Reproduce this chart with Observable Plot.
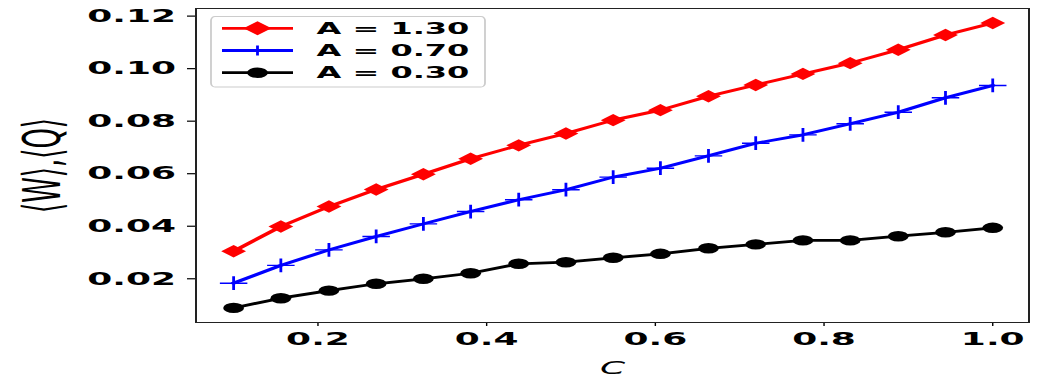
<!DOCTYPE html>
<html>
<head>
<meta charset="utf-8">
<script src="https://cdn.jsdelivr.net/npm/d3@7"></script>
<script src="https://cdn.jsdelivr.net/npm/@observablehq/plot@0.6"></script>
<style>
  html, body { margin: 0; padding: 0; background: #fff; }
  #chart svg { display: block; }
</style>
</head>
<body>
<div id="chart"></div>
<script>
// ---- data ----
const cValues = [0.1, 0.156, 0.213, 0.269, 0.325, 0.381, 0.438, 0.494, 0.55, 0.606, 0.663, 0.719, 0.775, 0.831, 0.888, 0.944, 1.0];
const valuesA130 = [0.0305, 0.0399, 0.0475, 0.0540, 0.0598, 0.0657, 0.0708, 0.0753, 0.0804, 0.0842, 0.0895, 0.0938, 0.0980, 0.1021, 0.1072, 0.1128, 0.1174];
const valuesA070 = [0.0183, 0.0251, 0.0310, 0.0361, 0.0409, 0.0456, 0.0501, 0.0539, 0.0587, 0.0621, 0.0668, 0.0716, 0.0748, 0.0790, 0.0834, 0.0889, 0.0936];
const valuesA030 = [0.0089, 0.0126, 0.0155, 0.0181, 0.0200, 0.0221, 0.0257, 0.0263, 0.0280, 0.0295, 0.0316, 0.0331, 0.0346, 0.0346, 0.0362, 0.0377, 0.0394];
const seriesNames = ["A = 1.30", "A = 0.70", "A = 0.30"];
const seriesColors = ["#ff0000", "#0000ff", "#000000"];
const xTicks = [0.2, 0.4, 0.6, 0.8, 1.0];
const yTicks = [0.02, 0.04, 0.06, 0.08, 0.10, 0.12];
const xLabel = "C";
const yLabel = "⟨W⟩,⟨Q⟩";

const rows = [];
[valuesA130, valuesA070, valuesA030].forEach((vals, i) =>
  vals.forEach((v, j) => rows.push({series: seriesNames[i], c: cValues[j], w: v}))
);
const bySeries = (k) => (d) => d.series === seriesNames[k];

// Drawn at half width, then stretched horizontally x2 (the reference is stretched).
const W = 524, H = 389;
const plot = Plot.plot({
  width: W,
  height: H,
  marginLeft: 97.5,
  marginRight: 10,
  marginTop: 8,
  marginBottom: 67,
  style: {fontFamily: "DejaVu Sans", background: "white", color: "black", overflow: "visible"},
  x: {domain: [0.0554, 1.043]},
  y: {domain: [0.00335, 0.1229]},
  color: {domain: seriesNames, range: seriesColors},
  marks: [
    Plot.axisX(xTicks, {tickSize: 4, tickPadding: 6, tickFormat: d3.format(".1f"), fontSize: 18, fontWeight: "bold", strokeWidth: 0.7, label: null}),
    Plot.axisY(yTicks, {tickSize: 4, tickPadding: 6, tickFormat: d3.format(".2f"), fontSize: 18, fontWeight: "bold", strokeWidth: 1.2, label: null}),
    Plot.line(rows, {x: "c", y: "w", z: "series", stroke: "series", strokeWidth: 2.8}),
    Plot.dot(rows, {filter: bySeries(0), x: "c", y: "w", symbol: "diamond2", fill: "series", stroke: "none", r: 5.6}),
    Plot.dot(rows, {filter: bySeries(1), x: "c", y: "w", symbol: "plus", fill: "none", stroke: "series", strokeWidth: 1.4, r: 4.5}),
    Plot.dot(rows, {filter: bySeries(2), x: "c", y: "w", symbol: "circle", fill: "series", stroke: "none", r: 5.2}),
    Plot.frame({stroke: "#222", strokeWidth: 1}),
    Plot.text([xLabel], {text: (d) => d, frameAnchor: "bottom", textAnchor: "middle", lineAnchor: "middle", dy: 45.8, fontSize: 18, fontStyle: "italic", fontFamily: "DejaVu Sans"}),
    Plot.text([yLabel], {text: (d) => d, frameAnchor: "left", textAnchor: "middle", lineAnchor: "middle", dx: -76.5, rotate: -90, fontSize: 26, fontFamily: "DejaVu Sans"})
  ]
});

// ---- legend (matplotlib style box) ----
const svg = d3.select(plot);
const lg = svg.append("g").attr("class", "legend").attr("text-anchor", "start");
lg.append("rect")
  .attr("x", 105.5).attr("y", 16.5).attr("width", 137).attr("height", 70.5)
  .attr("rx", 2).attr("ry", 4)
  .attr("fill", "white").attr("fill-opacity", 0.85)
  .attr("stroke", "#cccccc").attr("stroke-width", 0.9);
const rowY = [28.3, 50.5, 72.7];
seriesNames.forEach((name, i) => {
  const y = rowY[i];
  const col = seriesColors[i];
  lg.append("line").attr("x1", 111).attr("x2", 146.5).attr("y1", y).attr("y2", y)
    .attr("stroke", col).attr("stroke-width", 2.8);
  const cx = 128.75;
  if (i === 0) {
    const h = 7;
    lg.append("path").attr("d", `M${cx},${y - h}L${cx + h},${y}L${cx},${y + h}L${cx - h},${y}Z`).attr("fill", col);
  } else if (i === 1) {
    const h = 5;
    lg.append("path").attr("d", `M${cx - h},${y}H${cx + h}M${cx},${y - h}V${y + h}`).attr("stroke", col).attr("stroke-width", 1.4).attr("fill", "none");
  } else {
    lg.append("circle").attr("cx", cx).attr("cy", y).attr("r", 5.2).attr("fill", col);
  }
  lg.append("text").attr("x", 158.3).attr("y", y + 5.6)
    .attr("text-anchor", "start")
    .attr("font-family", "DejaVu Sans").attr("font-weight", "bold").attr("font-size", 16)
    .attr("fill", "black").style("white-space", "pre").text(name);
});

// ---- stretch horizontally to the reference aspect ----
plot.setAttribute("width", 1048);
plot.setAttribute("height", 389);
plot.setAttribute("viewBox", `0 0 ${W} ${H}`);
plot.setAttribute("preserveAspectRatio", "none");
plot.style.maxWidth = "none";
plot.style.width = "1048px";
plot.style.height = "389px";

document.getElementById("chart").appendChild(plot);
</script>
</body>
</html>
